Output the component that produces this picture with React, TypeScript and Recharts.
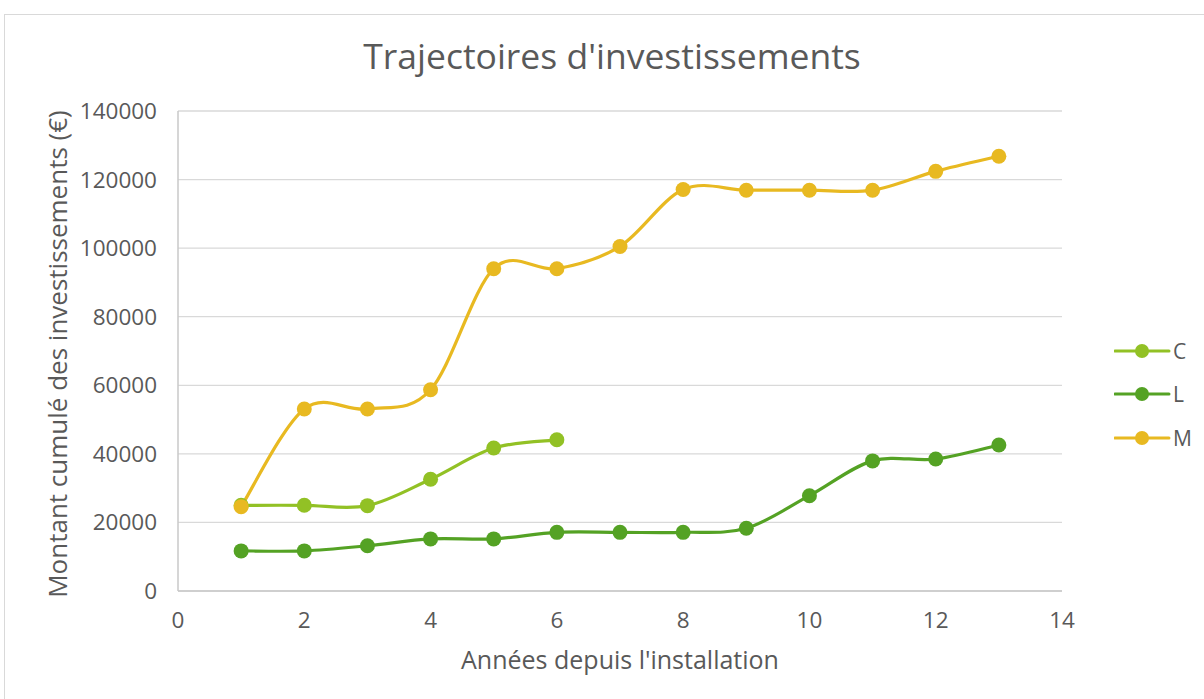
import { LineChart, Line, XAxis, YAxis, CartesianGrid, Label } from "recharts";

const years = [1, 2, 3, 4, 5, 6, 7, 8, 9, 10, 11, 12, 13];
const seriesC = [25000, 25000, 24900, 32600, 41700, 44100];
const seriesL = [11700, 11700, 13200, 15200, 15200, 17100, 17100, 17100, 18300, 27800, 37950, 38500, 42600];
const seriesM = [24600, 53100, 53100, 58700, 94000, 94000, 100500, 117100, 116900, 116900, 116900, 122400, 126800];
const xTicks = [0, 2, 4, 6, 8, 10, 12, 14];
const yTicks = [0, 20000, 40000, 60000, 80000, 100000, 120000, 140000];

const colors = { C: "#92c125", L: "#54a224", M: "#e8b921" };
const font = "'Open Sans', sans-serif";
const textColor = "#595959";

// smooth curve similar to Excel's "smoothed line" (Catmull-Rom style)
const smoothCurve = (context: any) => {
  let pts: number[][] = [];
  return {
    areaStart() {},
    areaEnd() {},
    lineStart() {
      pts = [];
    },
    point(x: number, y: number) {
      pts.push([+x, +y]);
    },
    lineEnd() {
      if (!pts.length) return;
      context.moveTo(pts[0][0], pts[0][1]);
      for (let i = 0; i < pts.length - 1; i++) {
        const p0 = pts[i - 1] || pts[i];
        const p1 = pts[i];
        const p2 = pts[i + 1];
        const p3 = pts[i + 2] || p2;
        context.bezierCurveTo(
          p1[0] + (p2[0] - p0[0]) / 6,
          p1[1] + (p2[1] - p0[1]) / 6,
          p2[0] - (p3[0] - p1[0]) / 6,
          p2[1] - (p3[1] - p1[1]) / 6,
          p2[0],
          p2[1]
        );
      }
    },
  };
};

const toData = (vals: number[]) => vals.map((v, i) => ({ x: years[i], y: v }));

const series = [
  { name: "C", data: toData(seriesC) },
  { name: "L", data: toData(seriesL) },
  { name: "M", data: toData(seriesM) },
];

const LegendBox = () => (
  <div style={{ position: "absolute", left: 1114, top: 329, fontFamily: font, color: textColor, fontSize: 21 }}>
    {series.map((s) => (
      <div key={s.name} style={{ display: "flex", alignItems: "center", height: 43.5 }}>
        <svg width={58} height={16}>
          <line x1={1} y1={8} x2={55} y2={8} stroke={colors[s.name as keyof typeof colors]} strokeWidth={3} strokeLinecap="round" />
          <circle cx={28} cy={8} r={7} fill={colors[s.name as keyof typeof colors]} />
        </svg>
        <span style={{ marginLeft: 1 }}>{s.name}</span>
      </div>
    ))}
  </div>
);

export default function App() {
  return (
    <div style={{ position: "fixed", left: 0, top: 0, width: 1204, height: 699, background: "#fff", overflow: "hidden" }}>
      <div
        style={{
          position: "absolute",
          left: 4,
          top: 14,
          width: 1210,
          height: 700,
          border: "1px solid #d9d9d9",
          boxSizing: "border-box",
        }}
      />
      <div
        style={{
          position: "absolute",
          left: 0,
          width: 1224,
          top: 31,
          textAlign: "center",
          fontFamily: font,
          fontSize: 35.5,
          color: textColor,
        }}
      >
        Trajectoires d'investissements
      </div>
      <div style={{ position: "absolute", left: 0, top: 0 }}>
        <LineChart width={1204} height={699} margin={{ top: 111, right: 142, bottom: 78, left: 100 }}>
          <CartesianGrid vertical={false} stroke="#d9d9d9" strokeWidth={1.3} />
          <XAxis
            type="number"
            dataKey="x"
            domain={[0, 14]}
            ticks={xTicks}
            interval={0}
            height={30}
            tickLine={false}
            tickSize={0}
            tickMargin={21}
            axisLine={{ stroke: "#c8c8c8", strokeWidth: 1.5 }}
            tick={{ fill: textColor, fontSize: 22.5, fontFamily: font }}
            allowDuplicatedCategory={false}
          >
            <Label
              content={() => (
                <text x={620} y={669} textAnchor="middle" fill={textColor} fontSize={25} fontFamily={font}>
                  Années depuis l'installation
                </text>
              )}
            />
          </XAxis>
          <YAxis
            type="number"
            domain={[0, 140000]}
            ticks={yTicks}
            interval={0}
            width={78}
            tickLine={false}
            tickSize={0}
            tickMargin={21}
            axisLine={{ stroke: "#c8c8c8", strokeWidth: 1.5 }}
            tick={{ fill: textColor, fontSize: 22.5, fontFamily: font }}
          >
            <Label
              content={() => (
                <text
                  x={0}
                  y={0}
                  transform="translate(67 354) rotate(-90)"
                  textAnchor="middle"
                  fill={textColor}
                  fontSize={26}
                  fontFamily={font}
                >
                  Montant cumulé des investissements (€)
                </text>
              )}
            />
          </YAxis>
          {series.map((s) => (
            <Line
              key={s.name}
              name={s.name}
              data={s.data}
              dataKey="y"
              type={smoothCurve as any}
              stroke={colors[s.name as keyof typeof colors]}
              strokeWidth={3.2}
              dot={{ r: 7.5, fill: colors[s.name as keyof typeof colors], stroke: "none" }}
              activeDot={false}
              isAnimationActive={false}
            />
          ))}
        </LineChart>
      </div>
      <LegendBox />
    </div>
  );
}
